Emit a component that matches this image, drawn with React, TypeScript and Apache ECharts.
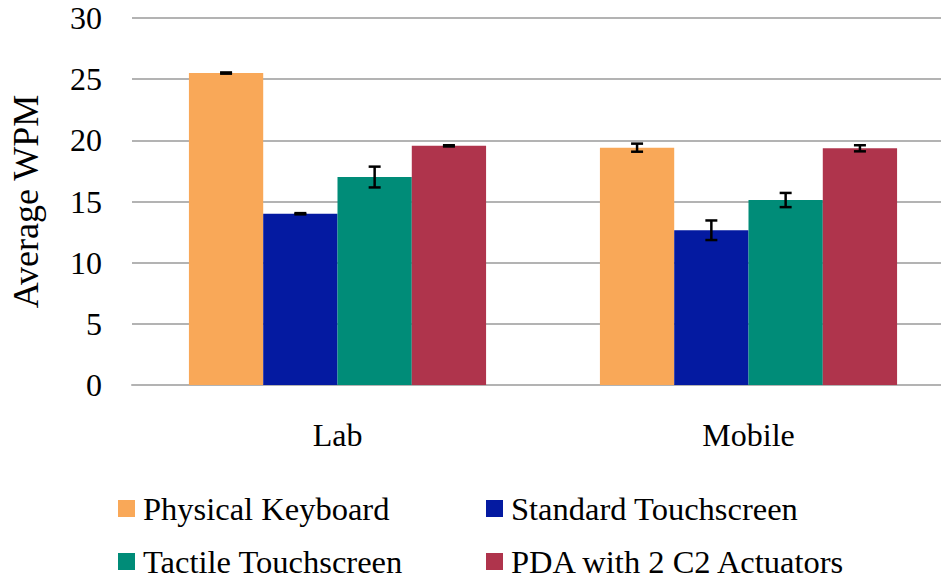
import React, { useEffect, useRef } from "react";
import * as echarts from "echarts";

const categories = ["Lab", "Mobile"];
const seriesNames = [
  "Physical Keyboard",
  "Standard Touchscreen",
  "Tactile Touchscreen",
  "PDA with 2 C2 Actuators",
];
const physicalKeyboard = [25.5, 19.4];
const standardTouchscreen = [14.0, 12.65];
const tactileTouchscreen = [17.0, 15.12];
const pdaActuators = [19.55, 19.35];
const physicalKeyboardErr = [0.05, 0.33];
const standardTouchscreenErr = [0.05, 0.8];
const tactileTouchscreenErr = [0.85, 0.58];
const pdaActuatorsErr = [0.05, 0.25];
const yTicks = [0, 5, 10, 15, 20, 25, 30];

const colors = ["#F9A858", "#041AA1", "#008C78", "#AF344C"];
const FONT = "Liberation Serif";
const CAT_GAP = 0.277;

export default function App() {
  const ref = useRef<HTMLDivElement>(null);
  useEffect(() => {
    if (!ref.current) return;
    const chart = echarts.init(ref.current, undefined, { renderer: "svg" });
    const values = [physicalKeyboard, standardTouchscreen, tactileTouchscreen, pdaActuators];
    const errs = [physicalKeyboardErr, standardTouchscreenErr, tactileTouchscreenErr, pdaActuatorsErr];

    const errData: number[][] = [];
    values.forEach((vals, s) => {
      vals.forEach((v, c) => {
        errData.push([c, v - errs[s][c], v + errs[s][c], s]);
      });
    });

    const legendPos = [
      { left: 118, top: 492 },
      { left: 486, top: 492 },
      { left: 118, top: 545 },
      { left: 486, top: 545 },
    ];

    chart.setOption({
      animation: false,
      color: colors,
      grid: { left: 130, top: 18, width: 824, height: 367 },
      legend: seriesNames.map((n, i) => ({
        data: [n],
        left: legendPos[i].left,
        top: legendPos[i].top,
        icon: "rect",
        itemWidth: 17,
        itemHeight: 17,
        itemGap: 0,
        padding: 0,
        selectedMode: false,
        textStyle: { fontFamily: FONT, fontSize: 32.5, color: "#000", padding: [0, 0, 0, 3] },
      })),
      xAxis: {
        type: "category",
        data: categories,
        axisTick: { show: false },
        axisLine: { lineStyle: { color: "#B3B3B3", width: 2 } },
        axisLabel: { fontFamily: FONT, fontSize: 32, color: "#000", margin: 34 },
      },
      yAxis: {
        type: "value",
        min: 0,
        max: 30,
        interval: 5,
        name: "Average WPM",
        nameLocation: "middle",
        nameGap: 88,
        nameTextStyle: { fontFamily: FONT, fontSize: 36, color: "#000" },
        axisLine: { show: false },
        axisTick: { show: false },
        splitLine: { lineStyle: { color: "#B3B3B3", width: 2 } },
        axisLabel: {
          fontFamily: FONT,
          fontSize: 32,
          color: "#000",
          margin: 30,
          formatter: (v: number) => (yTicks.includes(v) ? String(v) : ""),
        },
      },
      series: [
        ...seriesNames.map((n, i) => ({
          name: n,
          type: "bar",
          data: values[i],
          barGap: "0%",
          barCategoryGap: CAT_GAP * 100 + "%",
          itemStyle: { color: colors[i] },
        })),
        {
          name: "err",
          type: "custom",
          data: errData,
          z: 10,
          renderItem: (params: any, api: any) => {
            const c = api.value(0);
            const s = api.value(3);
            const lo = api.coord([c, api.value(1)]);
            const hi = api.coord([c, api.value(2)]);
            const band = api.size([1, 0])[0];
            const bw = (band * (1 - CAT_GAP)) / 4;
            const x = lo[0] + (s - 1.5) * bw;
            const cap = 6;
            const style = { stroke: "#000", lineWidth: 2.5 };
            return {
              type: "group",
              children: [
                { type: "line", shape: { x1: x, y1: lo[1], x2: x, y2: hi[1] }, style },
                { type: "line", shape: { x1: x - cap, y1: lo[1], x2: x + cap, y2: lo[1] }, style },
                { type: "line", shape: { x1: x - cap, y1: hi[1], x2: x + cap, y2: hi[1] }, style },
              ],
            };
          },
        },
      ],
    });
    return () => chart.dispose();
  }, []);
  return (
    <div style={{ position: "absolute", left: 0, top: 0, width: 941, height: 580, overflow: "hidden" }}>
      <div ref={ref} style={{ width: 970, height: 580 }} />
    </div>
  );
}
